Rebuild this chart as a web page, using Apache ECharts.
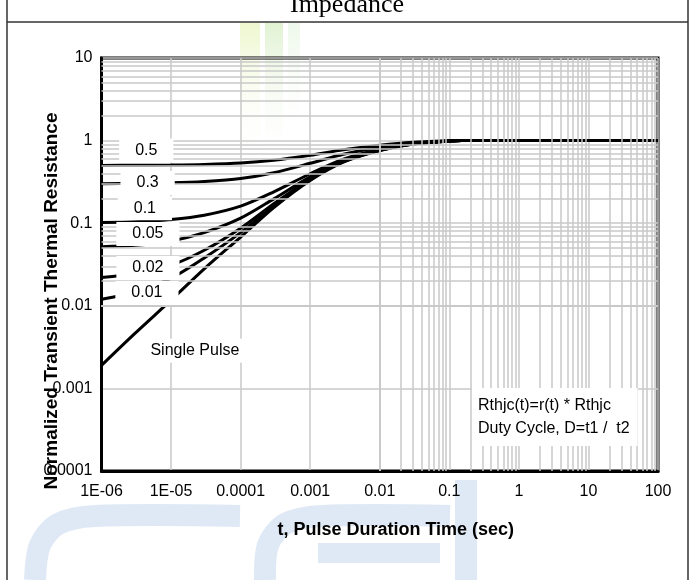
<!DOCTYPE html>
<html>
<head>
<meta charset="utf-8">
<script src="https://cdn.jsdelivr.net/npm/echarts@6/dist/echarts.min.js"></script>
<style>
  html, body { margin: 0; padding: 0; background: #fff; }
  #chart { width: 694px; height: 580px; }
</style>
</head>
<body>
<div id="chart"></div>
<script>
// pulse duration (sec)
const tValues = [1e-6, 3e-6, 1e-5, 3e-5, 1e-4, 3e-4, 1e-3, 3e-3, 1e-2, 3e-2, 0.1, 0.15, 1, 10, 100];

// normalized transient thermal resistance, one array per duty cycle
const d05 = [0.501, 0.502, 0.506, 0.514, 0.534, 0.578, 0.665, 0.775, 0.88, 0.955, 0.995, 1, 1, 1, 1];
const d03 = [0.301, 0.303, 0.308, 0.320, 0.348, 0.409, 0.531, 0.685, 0.832, 0.937, 0.993, 1, 1, 1, 1];
const d01 = [0.102, 0.104, 0.111, 0.125, 0.161, 0.240, 0.397, 0.595, 0.784, 0.919, 0.991, 1, 1, 1, 1];
const d005 = [0.052, 0.054, 0.061, 0.077, 0.115, 0.197, 0.364, 0.573, 0.772, 0.915, 0.99, 1, 1, 1, 1];
const d002 = [0.022, 0.0245, 0.031, 0.047, 0.087, 0.172, 0.343, 0.559, 0.765, 0.912, 0.99, 1, 1, 1, 1];
const d001 = [0.012, 0.0146, 0.0216, 0.038, 0.077, 0.163, 0.337, 0.555, 0.762, 0.911, 0.99, 1, 1, 1, 1];
const single = [0.0019, 0.0046, 0.0117, 0.028, 0.068, 0.155, 0.33, 0.55, 0.76, 0.91, 0.99, 1, 1, 1, 1];

const curves = [d05, d03, d01, d005, d002, d001, single];

// tick labels
const xTickLabels = ['1E-06', '1E-05', '0.0001', '0.001', '0.01', '0.1', '1', '10', '100'];
const yTickLabels = ['0.0001', '0.001', '0.01', '0.1', '1', '10'];

// curve labels: text, t, r
const curveLabels = ['0.5', '0.3', '0.1', '0.05', '0.02', '0.01', 'Single Pulse'];
const labelT = [4.4e-6, 4.6e-6, 4.2e-6, 4.65e-6, 4.65e-6, 4.5e-6, 2.2e-5];
const labelR = [0.76, 0.307, 0.152, 0.074, 0.0287, 0.0143, 0.00285];

const noteText = 'Rthjc(t)=r(t) * Rthjc\nDuty Cycle, D=t1 /  t2';
const notePos = [0.212, 0.00045];

const font = 'Arial, "Liberation Sans", sans-serif';
const gridGray = '#c8c8c8';
const markBlue = '#dfe9f5';

// minor grid at 2..9 of every decade
const minorX = [];
for (let d = -6; d < 2; d++) for (let k = 2; k <= 9; k++) minorX.push({ xAxis: k * Math.pow(10, d) });
const minorY = [];
for (let d = -4; d < 1; d++) for (let k = 2; k <= 9; k++) minorY.push({ yAxis: k * Math.pow(10, d) });

let myChart = echarts.init(document.getElementById('chart'), null, { renderer: 'canvas' });

const series = [
  {
    type: 'line',
    data: [],
    z: 1,
    silent: true,
    markLine: {
      silent: true,
      symbol: 'none',
      animation: false,
      label: { show: false },
      lineStyle: { color: gridGray, width: 1.5, type: 'solid', opacity: 1 },
      data: minorX.concat(minorY)
    }
  }
];

curves.forEach((c) => {
  series.push({
    type: 'line',
    data: tValues.map((t, i) => [t, c[i]]),
    smooth: 0.3,
    showSymbol: false,
    z: 3,
    lineStyle: { color: '#000', width: 3 },
    silent: true
  });
});

series.push({
  type: 'scatter',
  symbolSize: 0,
  z: 5,
  silent: true,
  itemStyle: { opacity: 1 },
  data: curveLabels.map((txt, i) => ({ value: [labelT[i], labelR[i]], name: txt }))
    .concat([{
      value: notePos,
      name: noteText,
      label: { position: 'inside', align: 'left', padding: [6, 8, 6, 6], lineHeight: 23, fontSize: 16 }
    }]),
  label: {
    show: true,
    position: 'inside',
    formatter: '{b}',
    color: '#000',
    opacity: 1,
    fontFamily: font,
    fontSize: 16,
    backgroundColor: '#ffffff',
    padding: [4, 16]
  }
});

// faint watermark behind the chart
const fade = (c) => new echarts.graphic.LinearGradient(0, 0, 0, 1, [
  { offset: 0, color: c }, { offset: 1, color: 'rgba(255,255,255,0)' }
]);
const stroke = (pts, w) => ({
  type: 'polyline', z: -1, silent: true,
  shape: { points: pts, smooth: 0.3 },
  style: { stroke: markBlue, lineWidth: w, fill: null, lineCap: 'butt' }
});
const watermark = [
  { type: 'rect', z: -1, silent: true, shape: { x: 240, y: 23, width: 20, height: 140 }, style: { fill: fade('#eef7cf') } },
  { type: 'rect', z: -1, silent: true, shape: { x: 265, y: 23, width: 18, height: 140 }, style: { fill: fade('#e1f2d3') } },
  { type: 'rect', z: -1, silent: true, shape: { x: 288, y: 23, width: 12, height: 120 }, style: { fill: fade('#eef8ea') } },
  stroke([[240, 516], [95, 516], [58, 524], [40, 545], [35, 580]], 22),
  stroke([[450, 516], [322, 516], [285, 524], [268, 545], [265, 580]], 22),
  stroke([[318, 553], [440, 553]], 20),
  stroke([[466, 480], [466, 580]], 22)
];

myChart.setOption({
  animation: false,
  backgroundColor: '#fff',
  grid: {
    left: 101.5,
    right: 36,
    top: 58,
    bottom: 109,
    show: true,
    borderColor: '#000',
    borderWidth: 3,
    backgroundColor: 'transparent'
  },
  xAxis: {
    type: 'log',
    logBase: 10,
    min: 1e-6,
    max: 100,
    splitNumber: 8,
    axisLine: { lineStyle: { color: '#000', width: 3 } },
    axisTick: { show: false },
    splitLine: { show: true, lineStyle: { color: gridGray, width: 1.5 } },
    axisLabel: {
      color: '#000',
      fontFamily: font,
      fontSize: 16,
      margin: 13,
      formatter: (v) => xTickLabels[Math.round(Math.log10(v)) + 6]
    },
    name: 't, Pulse Duration Time (sec)',
    nameLocation: 'middle',
    nameGap: 50,
    nameTextStyle: { fontFamily: font, fontSize: 18, fontWeight: 'bold', color: '#000', padding: [0, 0, 0, 32] }
  },
  yAxis: {
    type: 'log',
    logBase: 10,
    min: 1e-4,
    max: 10,
    splitNumber: 5,
    axisLine: { lineStyle: { color: '#000', width: 3 } },
    axisTick: { show: false },
    splitLine: { show: true, lineStyle: { color: gridGray, width: 1.5 } },
    axisLabel: {
      color: '#000',
      fontFamily: font,
      fontSize: 16,
      margin: 9,
      formatter: (v) => yTickLabels[Math.round(Math.log10(v)) + 4]
    }
  },
  graphic: watermark.concat([
    // datasheet table frame
    { type: 'line', shape: { x1: 7, y1: 0, x2: 7, y2: 580 }, style: { stroke: '#333', lineWidth: 1.5 }, z: 10 },
    { type: 'line', shape: { x1: 688, y1: 0, x2: 688, y2: 580 }, style: { stroke: '#333', lineWidth: 1.5 }, z: 10 },
    { type: 'line', shape: { x1: 7, y1: 22, x2: 688, y2: 22 }, style: { stroke: '#333', lineWidth: 1.5 }, z: 10 },
    {
      type: 'text', x: 347, y: 18, z: 10,
      style: { text: 'Impedance', font: '26px "Liberation Serif", "Times New Roman", serif', fill: '#000', textAlign: 'center', textVerticalAlign: 'bottom' }
    },
    {
      type: 'text', x: 52, y: 301, rotation: Math.PI / 2, z: 10,
      style: { text: 'Normalized Transient Thermal Resistance', font: 'bold 19px Arial, "Liberation Sans", sans-serif', fill: '#000', textAlign: 'center', textVerticalAlign: 'middle' }
    }
  ]),
  series: series
});

window.onresize = function () {
  myChart.resize();
};
</script>
</body>
</html>
